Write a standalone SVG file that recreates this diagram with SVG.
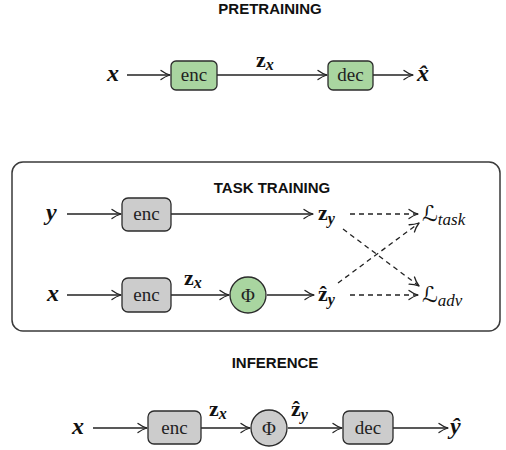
<svg xmlns="http://www.w3.org/2000/svg" width="506" height="450" viewBox="0 0 506 450">
  <style>
    .title { font-family: 'Liberation Sans', Arial, sans-serif; font-weight: bold; font-size: 15px; fill: #111; text-anchor: middle; }
    .lbl { font-family: 'Liberation Serif', 'Times New Roman', serif; font-size: 19px; fill: #222; text-anchor: middle; }
    .mv { font-family: 'Liberation Serif', 'Times New Roman', serif; font-weight: bold; font-style: italic; font-size: 24px; fill: #111; }
    .mz { font-family: 'Liberation Serif', 'Times New Roman', serif; font-weight: bold; font-size: 22px; fill: #111; }
    .ms { font-family: 'Liberation Serif', 'Times New Roman', serif; font-weight: bold; font-style: italic; font-size: 16px; fill: #111; }
    .cal { font-family: 'DejaVu Serif', 'DejaVu Sans', serif; font-style: italic; font-size: 22px; fill: #111; }
    .sub { font-family: 'Liberation Serif', 'Times New Roman', serif; font-style: italic; font-size: 17px; fill: #111; }
    .green { fill: #a9d5a0; stroke: #2b2b2b; stroke-width: 1.3; }
    .gray { fill: #cccccc; stroke: #2b2b2b; stroke-width: 1.3; }
    .edge { fill: none; stroke: #222; stroke-width: 1.3; marker-end: url(#arr); }
    .dash { stroke-dasharray: 5 4; }
    .frame { fill: none; stroke: #3a3a3a; stroke-width: 1.5; }
  </style>
  <defs>
    <marker id="arr" markerUnits="userSpaceOnUse" markerWidth="12" markerHeight="12" refX="10" refY="5" orient="auto" overflow="visible">
      <path d="M1,0.5 Q5,3.5 10,5 Q5,6.5 1,9.5" fill="none" stroke="#222" stroke-width="1.3" stroke-linecap="round" stroke-linejoin="round"/>
    </marker>
  </defs>

  <!-- section titles and the task-training frame -->
  <text class="title" x="270" y="14">PRETRAINING</text>
  <rect class="frame" x="12" y="162" width="488" height="169" rx="11"/>
  <text class="title" x="272" y="193">TASK TRAINING</text>
  <text class="title" x="275" y="368">INFERENCE</text>

  <!-- connectors -->
  <g id="connectors">
    <!-- pretraining row -->
    <line class="edge" x1="127" y1="75" x2="170" y2="75"/>
    <line class="edge" x1="217" y1="75" x2="327" y2="75"/>
    <line class="edge" x1="373" y1="75" x2="413" y2="75"/>
    <!-- task training rows -->
    <line class="edge" x1="67" y1="214" x2="121" y2="214"/>
    <line class="edge" x1="171" y1="214" x2="313" y2="214"/>
    <line class="edge dash" x1="350" y1="214" x2="418" y2="214"/>
    <line class="edge" x1="67" y1="295" x2="121" y2="295"/>
    <line class="edge" x1="171" y1="295" x2="229" y2="295"/>
    <line class="edge" x1="267" y1="295" x2="314" y2="295"/>
    <line class="edge dash" x1="350" y1="295" x2="418" y2="295"/>
    <line class="edge dash" x1="343" y1="229" x2="419" y2="286"/>
    <line class="edge dash" x1="338" y1="283" x2="419" y2="223"/>
    <!-- inference row -->
    <line class="edge" x1="93" y1="428" x2="147" y2="428"/>
    <line class="edge" x1="201" y1="428" x2="250" y2="428"/>
    <line class="edge" x1="288" y1="428" x2="342" y2="428"/>
    <line class="edge" x1="393" y1="428" x2="448" y2="428"/>
  </g>

  <!-- pretraining nodes -->
  <g id="pre-x"><text class="mv" x="107" y="81">x</text></g>
  <g id="pre-enc">
    <rect class="green" x="171" y="61" width="46" height="29" rx="5"/>
    <text class="lbl" x="194" y="81">enc</text>
  </g>
  <g id="pre-zx">
    <text x="256" y="67"><tspan class="mz">z</tspan><tspan class="ms" dy="3">x</tspan></text>
  </g>
  <g id="pre-dec">
    <rect class="green" x="328" y="61" width="45" height="29" rx="5"/>
    <text class="lbl" x="350.5" y="81">dec</text>
  </g>
  <g id="pre-xhat"><text class="mv" x="417" y="81">x̂</text></g>

  <!-- task training nodes -->
  <g id="tt-y"><text class="mv" x="46" y="220">y</text></g>
  <g id="tt-enc-y">
    <rect class="gray" x="122" y="198" width="49" height="33" rx="6"/>
    <text class="lbl" x="146.5" y="220">enc</text>
  </g>
  <g id="tt-zy">
    <text x="318" y="220"><tspan class="mz">z</tspan><tspan class="ms" dy="4">y</tspan></text>
  </g>
  <g id="tt-ltask">
    <text x="422" y="221"><tspan class="cal">ℒ</tspan><tspan class="sub" dy="4">task</tspan></text>
  </g>
  <g id="tt-x"><text class="mv" x="47" y="301">x</text></g>
  <g id="tt-enc-x">
    <rect class="gray" x="122" y="278" width="49" height="34" rx="6"/>
    <text class="lbl" x="146.5" y="301">enc</text>
  </g>
  <g id="tt-zx">
    <text x="184" y="285"><tspan class="mz">z</tspan><tspan class="ms" dy="3">x</tspan></text>
  </g>
  <g id="tt-phi">
    <circle class="green" cx="248" cy="295" r="18"/>
    <text class="lbl" x="248" y="302">Φ</text>
  </g>
  <g id="tt-zyhat">
    <text x="318" y="301"><tspan class="mz">ẑ</tspan><tspan class="ms" dy="4">y</tspan></text>
  </g>
  <g id="tt-ladv">
    <text x="422" y="302"><tspan class="cal">ℒ</tspan><tspan class="sub" dy="4">adv</tspan></text>
  </g>

  <!-- inference nodes -->
  <g id="inf-x"><text class="mv" x="72" y="434">x</text></g>
  <g id="inf-enc">
    <rect class="gray" x="148" y="411" width="53" height="33" rx="6"/>
    <text class="lbl" x="174.5" y="434">enc</text>
  </g>
  <g id="inf-zx">
    <text x="209" y="416"><tspan class="mz">z</tspan><tspan class="ms" dy="3">x</tspan></text>
  </g>
  <g id="inf-phi">
    <circle class="gray" cx="269" cy="428" r="18"/>
    <text class="lbl" x="269" y="435">Φ</text>
  </g>
  <g id="inf-zyhat">
    <text x="291" y="416"><tspan class="mz">ẑ</tspan><tspan class="ms" dy="4">y</tspan></text>
  </g>
  <g id="inf-dec">
    <rect class="gray" x="343" y="411" width="50" height="33" rx="6"/>
    <text class="lbl" x="368" y="434">dec</text>
  </g>
  <g id="inf-yhat"><text class="mv" x="450" y="434">ŷ</text></g>
</svg>
